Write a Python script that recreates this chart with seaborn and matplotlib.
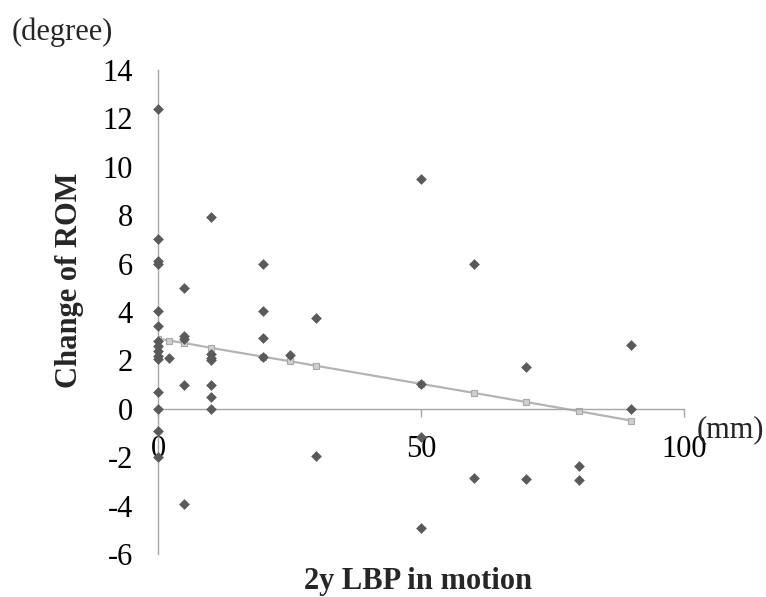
import matplotlib
matplotlib.use('Agg')
import numpy as np
import pandas as pd
import matplotlib.pyplot as plt
import seaborn as sns

# =========================
# DATA
# =========================
lbp_mm = ([0] * 15 + [2] + [5] * 5 + [10] * 7 + [20] * 4 + [25] + [30] * 2
          + [50] * 4 + [60] * 2 + [70] * 2 + [80] * 2 + [90] * 2)
rom_change = [12.4, 7.0, 6.1, 6.0, 4.05, 3.43, 2.8, 2.6, 2.4, 2.2, 2.05, 0.7, 0.0, -0.93, -1.98,
              2.1,
              5.0, 3.0, 2.9, 1.0, -3.95,
              7.93, 2.26, 2.1, 2.0, 1.0, 0.5, 0.0,
              6.0, 4.03, 2.92, 2.13,
              2.24,
              3.74, -1.96,
              9.5, 1.03, -1.15, -4.94,
              6.0, -2.84,
              1.74, -2.92,
              -2.35, -2.95,
              2.63, 0.0]

# predicted values of the linear trend (grey line with squares)
fit_x = [0, 2, 5, 10, 20, 25, 30, 50, 60, 70, 80, 90]
fit_y = [2.9, 2.82, 2.72, 2.52, 2.15, 1.97, 1.78, 1.03, 0.66, 0.28, -0.1, -0.49]

y_ticks = [-6, -4, -2, 0, 2, 4, 6, 8, 10, 12, 14]
x_ticks = [0, 50, 100]

df = pd.DataFrame({'LBP': lbp_mm, 'ROM': rom_change})
fit = pd.DataFrame({'LBP': fit_x, 'ROM': fit_y})

# =========================
# STYLE
# =========================
sns.set_theme(style='white')
plt.rcParams['font.family'] = ['Liberation Serif', 'DejaVu Serif']
plt.rcParams['font.size'] = 22

axis_grey = '#a6a6a6'
point_col = '#5a5a5a'

fig = plt.figure(figsize=(7.66, 5.97), dpi=100)
ax = fig.add_axes([158 / 766, 1 - 554 / 597, (684 - 158) / 766, (554 - 70) / 597])

sns.lineplot(data=fit, x='LBP', y='ROM', ax=ax, color='#b4b4b4', linewidth=1.6,
             marker='s', markersize=5, markerfacecolor='#cfcfcf',
             markeredgecolor='#a8a8a8', markeredgewidth=0.8, zorder=2)
sns.scatterplot(data=df, x='LBP', y='ROM', ax=ax, color=point_col, marker='D',
                s=30, linewidth=0, zorder=3, clip_on=False)

ax.set_xlim(0, 100)
ax.set_ylim(-6, 14)
ax.set_xticks(x_ticks)
ax.set_yticks(y_ticks)
ax.set_xticklabels([str(t) for t in x_ticks])
ax.set_yticklabels([str(t) for t in y_ticks])
ax.set_xlabel('')
ax.set_ylabel('')

for side in ['top', 'right']:
    ax.spines[side].set_visible(False)
ax.spines['bottom'].set_position(('data', 0))
for side in ['left', 'bottom']:
    ax.spines[side].set_color(axis_grey)
    ax.spines[side].set_linewidth(1.0)

ax.tick_params(axis='both', which='major', direction='out', length=6, width=1.0,
               color=axis_grey, labelsize=22, labelcolor='black')
ax.tick_params(axis='y', pad=12)
ax.tick_params(axis='x', pad=13, bottom=True)

# =========================
# LABELS
# =========================
fig.text(12 / 766, 1 - 32 / 597, '(degree)', ha='left', va='center', fontsize=22)
fig.text(697 / 766, 1 - 430 / 597, '(mm)', ha='left', va='center', fontsize=22)
fig.text(69 / 766, 1 - 280 / 597, 'Change of ROM', rotation=90, ha='center',
         va='center', fontsize=22, fontweight='bold')
fig.text(418 / 766, 1 - 589 / 597, '2y LBP in motion', ha='center',
         va='baseline', fontsize=22, fontweight='bold')

plt.savefig('out.png', dpi=100)
